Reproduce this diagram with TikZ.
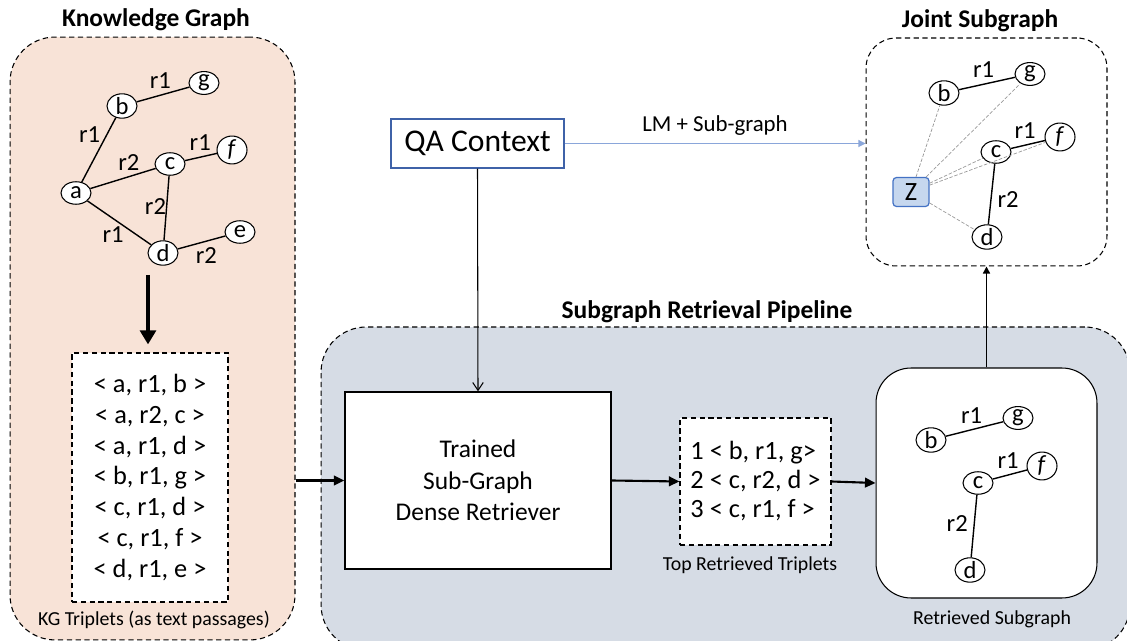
\documentclass[tikz,border=0pt]{standalone}
\usepackage{fontspec}
\setmainfont{Carlito}
\usepackage{xcolor}
\usetikzlibrary{arrows.meta,shapes.geometric}

\definecolor{kgpeach}{HTML}{F8E3D7}
\definecolor{pipegray}{HTML}{D6DCE5}
\definecolor{zfill}{HTML}{C6D7EE}
\definecolor{zblue}{HTML}{4472C4}
\definecolor{qablue}{HTML}{3F62A8}
\definecolor{lmblue}{HTML}{8AA6DA}

\begin{document}
\begin{tikzpicture}[x=0.02cm,y=-0.02cm,
	ent/.style={ellipse,draw,fill=white,inner sep=0pt,line width=0.6pt,
		minimum width=0.6cm,minimum height=0.45cm,font=\fontsize{14}{14}\selectfont},
	box/.style={draw,rounded corners=0.9cm,dash pattern=on 3pt off 2pt,line width=0.6pt},
	triples/.style={draw,fill=white,dash pattern=on 3pt off 2pt,line width=0.7pt},
	heading/.style={font=\fontsize{14.5}{16}\selectfont\bfseries},
	caption/.style={font=\fontsize{11.3}{13}\selectfont},
	zlink/.style={draw=gray!80,line width=0.4pt,dash pattern=on 2pt off 1pt},
	flow/.style={line width=1.2pt,-{Triangle[length=6pt,width=5.5pt]}}]
	\useasboundingbox (0,0) rectangle (1127,641);
	\clip (0,0) rectangle (1127,641);
	%
	%  CONTAINERS
	%
	\node[box,fill=kgpeach,minimum width=5.7cm,minimum height=12.06cm] (kg) at (152.5,338.5) {};
	\node[box,fill=pipegray,minimum width=16.18cm,minimum height=6.46cm] (pipe) at (725.5,488.5) {};
	\node[box,rounded corners=0.6cm,minimum width=4.82cm,minimum height=4.56cm] (joint) at (986.5,152) {};
	\node[draw,fill=white,rounded corners=0.7cm,line width=0.6pt,
		minimum width=4.42cm,minimum height=4.6cm] (sub) at (986.5,483) {};
	\node[heading] (kgt1) at (156,20) {Knowledge Graph};
	\node[heading] (pipet) at (707,312) {Subgraph Retrieval Pipeline};
	\node[heading] (jointt) at (980,21) {Joint Subgraph};
	\node[caption] (kgcap) at (154,620) {KG Triplets (as text passages)};
	\node[caption] (topcap) at (750,565) {Top Retrieved Triplets};
	\node[caption] (subcap) at (992,619) {Retrieved Subgraph};
	%
	%  KNOWLEDGE GRAPH
	%
	\node[ent] (a) at (76,193) {a};
	\node[ent] (b) at (122,106) {b};
	\node[ent] (c) at (170,164) {c};
	\node[ent] (d) at (163,253) {d};
	\node[ent] (e) at (240,232) {e};
	\node[ent] (f) at (232,150) {\textit{f}};
	\node[ent] (g) at (204,83) {g};
	\path[line width=0.8pt,font=\fontsize{14}{14}\selectfont]
	(a) edge node[left,pos=0.73]{r1} (b)
	(b) edge node[above,pos=0.45]{r1} (g)
	(a) edge node[above,pos=0.59]{r2} (c)
	(c) edge node[above,pos=0.48]{r1} (f)
	(c) edge node[left,inner sep=0pt,pos=0.47]{r2} (d)
	(a) edge node[below left,inner sep=0pt,pos=0.58]{r1} (d)
	(d) edge node[below,inner sep=3pt,pos=0.6]{r2} (e);
	%
	%  TRIPLETS AND RETRIEVER
	%
	\node[triples,minimum width=3.12cm,minimum height=4.98cm,align=center,
		font=\fontsize{15}{17.6}\selectfont] (kgtrip) at (150,477.5)
		{< a, r1, b >\\< a, r2, c >\\< a, r1, d >\\< b, r1, g >\\< c, r1, d >\\< c, r1, f >\\< d, r1, e >};
	\node[draw,fill=white,line width=0.8pt,minimum width=5.32cm,minimum height=3.54cm,align=center,
		font=\fontsize{14.5}{18}\selectfont] (retr) at (478,480.5) {Trained\\Sub-Graph\\Dense Retriever};
	\node[triples,minimum width=3.02cm,minimum height=2.54cm,align=left,
		font=\fontsize{15}{16.5}\selectfont] (top) at (755.5,481.5)
		{1 < b, r1, g>\\2 < c, r2, d >\\3 < c, r1, f >};
	\node[draw=qablue,line width=0.6pt,minimum width=3.46cm,minimum height=0.98cm,
		font=\fontsize{18}{20}\selectfont] (qa) at (477.5,143.5) {QA Context};
	%
	%  RETRIEVED SUBGRAPH
	%
	\node[ent] (rb) at (931,440) {b};
	\node[ent] (rg) at (1018,418) {g};
	\node[ent] (rc) at (978,483) {c};
	\node[ent] (rf) at (1042,466) {\textit{f}};
	\node[ent] (rd) at (970,570) {d};
	\path[line width=0.8pt,font=\fontsize{14}{14}\selectfont]
	(rb) edge node[above,pos=0.45]{r1} (rg)
	(rc) edge node[above,pos=0.45]{r1} (rf)
	(rc) edge node[left,pos=0.46]{r2} (rd);
	%
	%  JOINT SUBGRAPH
	%
	\node[draw=zblue,fill=zfill,rounded corners=2pt,line width=0.7pt,minimum width=0.72cm,
		minimum height=0.58cm,font=\fontsize{15}{15}\selectfont] (z) at (911,192) {Z};
	\node[ent] (jb) at (944,93) {b};
	\node[ent] (jg) at (1030,74) {g};
	\node[ent] (jc) at (996,152) {c};
	\node[ent] (jf) at (1060,137) {\textit{f}};
	\node[ent] (jd) at (987,237) {d};
	\path[zlink] (z) -- (jb) (z) -- (jg) (z) -- (jc) (z) -- (jf) (z) -- (jd);
	\path[line width=0.8pt,font=\fontsize{14}{14}\selectfont]
	(jb) edge node[above,pos=0.44]{r1} (jg)
	(jc) edge node[above,pos=0.42]{r1} (jf)
	(jc) edge node[right,pos=0.59]{r2} (jd);
	%
	%  ARROWS
	%
	\coordinate (kgdown) at (148,275);
	\draw[line width=2pt,-{Triangle[length=8pt,width=9pt]},shorten >=0.16cm] (kgdown) -- (kgdown |- kgtrip.north);
	\draw[flow] (kg.east |- retr.west) -- (retr.west);
	\draw[flow] (retr.east) -- (top.west);
	\draw[flow] (top.east) -- (sub.west);
	\draw[line width=0.8pt,-{Triangle[length=4pt,width=4pt]}] (sub.north) -- (joint.south);
	\draw[line width=0.6pt,-{Straight Barb[length=4.5pt,width=6pt]}] (qa.south) -- (retr.north);
	\draw[lmblue,line width=0.6pt,-{Triangle[length=4pt,width=4pt]}] (qa.east) -- (qa.east -| joint.west)
		node[midway,above=1pt,black,font=\fontsize{13}{14}\selectfont] (lm) {LM + Sub-graph};
\end{tikzpicture}
\end{document}
